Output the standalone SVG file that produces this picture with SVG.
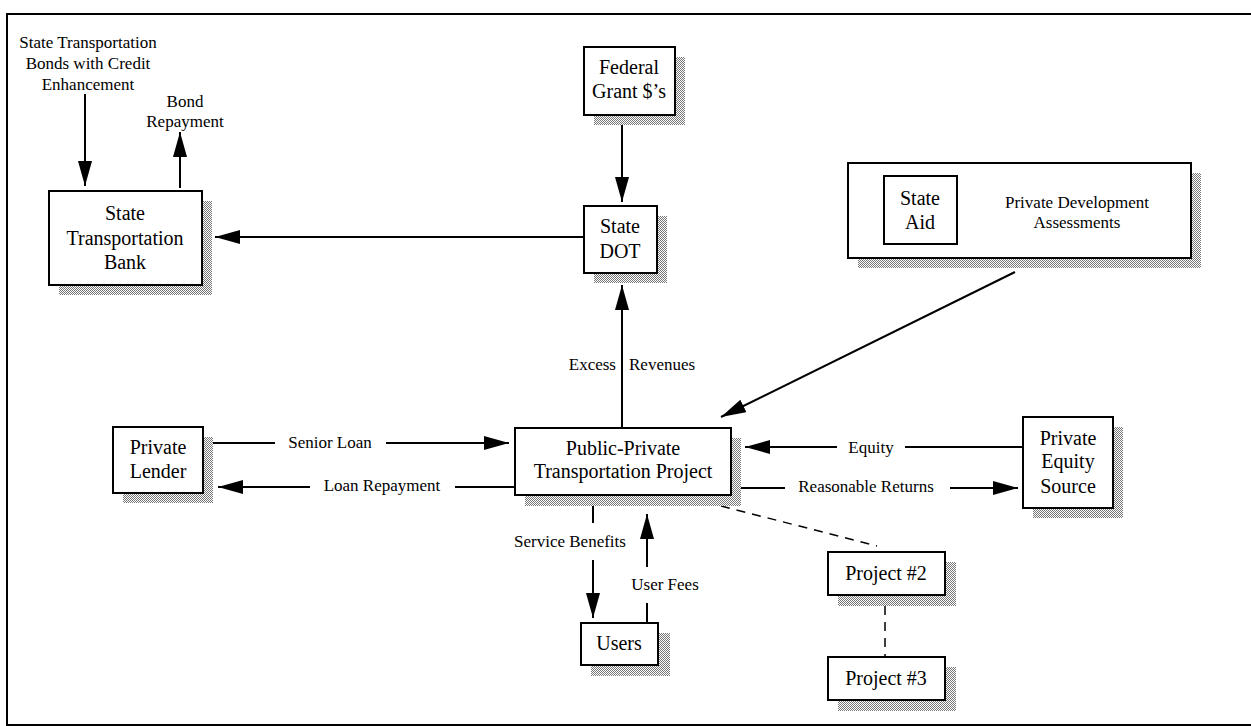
<svg xmlns="http://www.w3.org/2000/svg" width="1251" height="726" viewBox="0 0 1251 726">
  <style>
    .box { fill: #fff; stroke: #000; stroke-width: 2; }
    .shadow { fill: url(#halftone); stroke: none; }
    .t { font-family: "Liberation Serif", "Times New Roman", serif; fill: #000; text-anchor: middle; }
    .big { font-size: 20px; }
    .lbl { font-size: 17px; }
    .line { stroke: #000; stroke-width: 2; fill: none; }
    .arrow { stroke: #000; stroke-width: 2; fill: none; marker-end: url(#head); }
    .dash { stroke: #000; stroke-width: 1.5; fill: none; stroke-dasharray: 9 7; }
  </style>
  <defs>
    <pattern id="halftone" width="2" height="2" patternUnits="userSpaceOnUse">
      <rect width="2" height="2" fill="#fff"/>
      <rect x="0" y="0" width="1" height="1" fill="#777"/>
      <rect x="1" y="1" width="1" height="1" fill="#777"/>
    </pattern>
    <marker id="head" markerUnits="userSpaceOnUse" markerWidth="26" markerHeight="16" refX="25" refY="7" orient="auto">
      <path d="M0,0 L25,7 L0,14 Z" fill="#000"/>
    </marker>
  </defs>

  <rect width="1251" height="726" fill="#fff"/>

  <!-- page frame -->
  <g id="frame" class="line">
    <path d="M1251,14 H7 V725 H1251"/>
  </g>

  <!-- free-standing bond labels -->
  <g id="bonds-label">
    <text class="t lbl" x="88" y="48">State Transportation</text>
    <text class="t lbl" x="88" y="69">Bonds with Credit</text>
    <text class="t lbl" x="88" y="90">Enhancement</text>
  </g>
  <g id="bond-repayment-label">
    <text class="t lbl" x="185" y="107">Bond</text>
    <text class="t lbl" x="185" y="127">Repayment</text>
  </g>

  <!-- connectors -->
  <g id="connectors">
    <line class="arrow" x1="85" y1="94" x2="85" y2="186"/>
    <line class="arrow" x1="180" y1="188" x2="180" y2="132"/>
    <line class="arrow" x1="585" y1="237" x2="215" y2="237"/>
    <line class="arrow" x1="622" y1="125" x2="622" y2="202"/>
    <line class="arrow" x1="622" y1="428" x2="622" y2="285"/>
    <line class="arrow" x1="1015" y1="272" x2="721" y2="417"/>
    <!-- Senior Loan -->
    <line class="line" x1="213" y1="443" x2="275" y2="443"/>
    <line class="arrow" x1="386" y1="443" x2="509" y2="443"/>
    <!-- Loan Repayment -->
    <line class="line" x1="515" y1="487" x2="455" y2="487"/>
    <line class="arrow" x1="310" y1="487" x2="218" y2="487"/>
    <!-- Equity -->
    <line class="line" x1="1023" y1="447" x2="905" y2="447"/>
    <line class="arrow" x1="837" y1="447" x2="745" y2="447"/>
    <!-- Reasonable Returns -->
    <line class="line" x1="733" y1="488" x2="785" y2="488"/>
    <line class="arrow" x1="950" y1="488" x2="1018" y2="488"/>
    <!-- Service Benefits -->
    <line class="line" x1="593" y1="506" x2="593" y2="523"/>
    <line class="arrow" x1="593" y1="560" x2="593" y2="618"/>
    <!-- User Fees -->
    <line class="line" x1="647" y1="623" x2="647" y2="603"/>
    <line class="arrow" x1="647" y1="567" x2="647" y2="514"/>
    <!-- project links -->
    <line class="dash" x1="690" y1="498" x2="877" y2="546"/>
    <line class="dash" x1="885" y1="606" x2="885" y2="657"/>
  </g>

  <g id="excess-revenues-label">
    <text class="t lbl" y="370"><tspan x="616" text-anchor="end">Excess</tspan><tspan x="629" text-anchor="start">Revenues</tspan></text>
  </g>
  <g id="connector-labels">
    <text class="t lbl" x="330" y="448">Senior Loan</text>
    <text class="t lbl" x="382" y="491">Loan Repayment</text>
    <text class="t lbl" x="871" y="453">Equity</text>
    <text class="t lbl" x="866" y="492">Reasonable Returns</text>
    <text class="t lbl" x="570" y="547">Service Benefits</text>
    <text class="t lbl" x="665" y="590">User Fees</text>
  </g>

  <!-- nodes -->
  <g id="state-transportation-bank">
    <rect class="shadow" x="59" y="201" width="153" height="94"/>
    <rect class="box" x="49" y="191" width="153" height="94"/>
    <text class="t big" x="125" y="220">State</text>
    <text class="t big" x="125" y="245">Transportation</text>
    <text class="t big" x="125" y="269">Bank</text>
  </g>

  <g id="federal-grant">
    <rect class="shadow" x="594" y="57" width="91" height="68"/>
    <rect class="box" x="584" y="47" width="91" height="68"/>
    <text class="t big" x="629" y="74">Federal</text>
    <text class="t big" x="629" y="98">Grant $’s</text>
  </g>

  <g id="state-dot">
    <rect class="shadow" x="594" y="216" width="73" height="67"/>
    <rect class="box" x="584" y="206" width="73" height="67"/>
    <text class="t big" x="620" y="233">State</text>
    <text class="t big" x="620" y="258">DOT</text>
  </g>

  <g id="private-development">
    <rect class="shadow" x="858" y="173" width="343" height="95"/>
    <rect class="box" x="848" y="163" width="343" height="95"/>
    <rect class="box" x="884" y="176" width="73" height="68" stroke-width="1.5"/>
    <text class="t big" x="920" y="205">State</text>
    <text class="t big" x="920" y="229">Aid</text>
    <text class="t lbl" x="1077" y="208">Private Development</text>
    <text class="t lbl" x="1077" y="228">Assessments</text>
  </g>

  <g id="private-lender">
    <rect class="shadow" x="123" y="437" width="90" height="66"/>
    <rect class="box" x="113" y="427" width="90" height="66"/>
    <text class="t big" x="158" y="454">Private</text>
    <text class="t big" x="158" y="478">Lender</text>
  </g>

  <g id="public-private-project">
    <rect class="shadow" x="525" y="438" width="216" height="68"/>
    <rect class="box" x="515" y="428" width="216" height="67"/>
    <text class="t big" x="623" y="455">Public-Private</text>
    <text class="t big" x="623" y="478">Transportation Project</text>
  </g>

  <g id="private-equity-source">
    <rect class="shadow" x="1033" y="427" width="90" height="91"/>
    <rect class="box" x="1023" y="417" width="90" height="91"/>
    <text class="t big" x="1068" y="445">Private</text>
    <text class="t big" x="1068" y="468">Equity</text>
    <text class="t big" x="1068" y="493">Source</text>
  </g>

  <g id="users">
    <rect class="shadow" x="591" y="633" width="79" height="43"/>
    <rect class="box" x="581" y="623" width="77" height="42"/>
    <text class="t big" x="619" y="650">Users</text>
  </g>

  <g id="project-2">
    <rect class="shadow" x="838" y="562" width="118" height="44"/>
    <rect class="box" x="828" y="552" width="117" height="43"/>
    <text class="t big" x="886" y="580">Project #2</text>
  </g>

  <g id="project-3">
    <rect class="shadow" x="838" y="667" width="118" height="44"/>
    <rect class="box" x="828" y="657" width="117" height="43"/>
    <text class="t big" x="886" y="685">Project #3</text>
  </g>
</svg>
